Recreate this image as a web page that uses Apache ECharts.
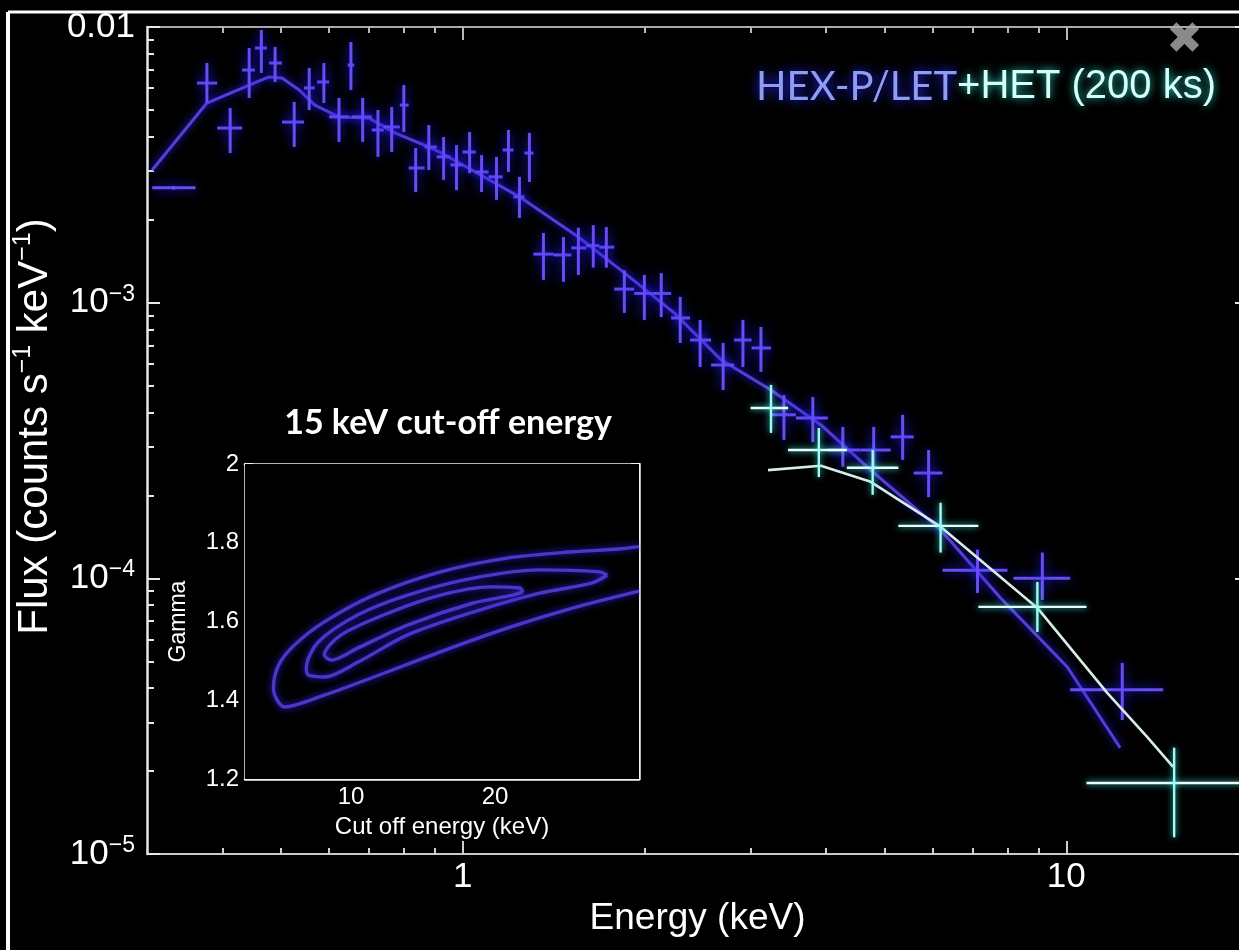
<!DOCTYPE html>
<html>
<head>
<meta charset="utf-8">
<title>HEX-P spectrum</title>
<script src="https://cdn.jsdelivr.net/npm/echarts@6/dist/echarts.min.js"></script>
<style>
  html, body { margin: 0; padding: 0; background: #000; }
  #chart { width: 1239px; height: 950px; }
</style>
</head>
<body>
<div id="chart"></div>
<script>
// ---- LET spectrum: [energy, energyLow, energyHigh, flux, fluxLow, fluxHigh] ----
const letSpectrum = [
  [0.332, 0.306, 0.361, 2.61e-3, 2.57e-3, 2.65e-3],
  [0.377, 0.363, 0.392, 6.26e-3, 5.30e-3, 7.40e-3],
  [0.412, 0.392, 0.431, 4.30e-3, 3.49e-3, 5.08e-3],
  [0.443, 0.431, 0.453, 6.98e-3, 5.53e-3, 8.39e-3],
  [0.464, 0.453, 0.474, 8.39e-3, 6.81e-3, 9.75e-3],
  [0.489, 0.478, 0.502, 7.40e-3, 6.32e-3, 8.46e-3],
  [0.526, 0.502, 0.546, 4.52e-3, 3.67e-3, 5.35e-3],
  [0.557, 0.546, 0.569, 6.01e-3, 5.00e-3, 7.10e-3],
  [0.589, 0.574, 0.601, 6.32e-3, 5.30e-3, 7.40e-3],
  [0.624, 0.601, 0.648, 4.72e-3, 3.83e-3, 5.53e-3],
  [0.653, 0.645, 0.661, 7.28e-3, 5.91e-3, 8.82e-3],
  [0.683, 0.656, 0.707, 4.72e-3, 3.83e-3, 5.53e-3],
  [0.724, 0.707, 0.740, 4.23e-3, 3.38e-3, 5.00e-3],
  [0.763, 0.740, 0.787, 4.34e-3, 3.52e-3, 5.13e-3],
  [0.799, 0.787, 0.814, 5.21e-3, 4.16e-3, 6.16e-3],
  [0.836, 0.814, 0.865, 3.08e-3, 2.52e-3, 3.64e-3],
  [0.879, 0.865, 0.906, 3.67e-3, 3.03e-3, 4.41e-3],
  [0.930, 0.906, 0.955, 3.38e-3, 2.79e-3, 3.99e-3],
  [0.977, 0.955, 1.000, 3.16e-3, 2.56e-3, 3.73e-3],
  [1.027, 1.000, 1.051, 3.52e-3, 2.95e-3, 4.16e-3],
  [1.075, 1.051, 1.104, 2.98e-3, 2.52e-3, 3.43e-3],
  [1.138, 1.104, 1.165, 2.86e-3, 2.36e-3, 3.38e-3],
  [1.191, 1.165, 1.214, 3.58e-3, 2.98e-3, 4.23e-3],
  [1.242, 1.214, 1.266, 2.42e-3, 2.03e-3, 2.86e-3],
  [1.290, 1.266, 1.310, 3.49e-3, 2.74e-3, 4.13e-3],
  [1.361, 1.310, 1.414, 1.50e-3, 1.21e-3, 1.79e-3],
  [1.469, 1.414, 1.514, 1.49e-3, 1.19e-3, 1.73e-3],
  [1.555, 1.514, 1.603, 1.58e-3, 1.26e-3, 1.87e-3],
  [1.646, 1.603, 1.684, 1.61e-3, 1.34e-3, 1.91e-3],
  [1.730, 1.684, 1.783, 1.59e-3, 1.34e-3, 1.88e-3],
  [1.853, 1.783, 1.924, 1.12e-3, 9.18e-4, 1.31e-3],
  [2.000, 1.924, 2.069, 1.08e-3, 8.66e-4, 1.26e-3],
  [2.133, 2.069, 2.215, 1.08e-3, 8.87e-4, 1.28e-3],
  [2.293, 2.215, 2.381, 8.80e-4, 7.14e-4, 1.05e-3],
  [2.474, 2.381, 2.580, 7.32e-4, 5.84e-4, 8.66e-4],
  [2.701, 2.580, 2.816, 5.94e-4, 4.82e-4, 7.14e-4],
  [2.913, 2.816, 3.010, 7.32e-4, 5.84e-4, 8.66e-4],
  [3.120, 3.010, 3.242, 6.85e-4, 5.61e-4, 8.16e-4],
  [3.406, 3.242, 3.565, 3.92e-4, 3.18e-4, 4.62e-4],
  [3.803, 3.565, 4.027, 3.82e-4, 3.12e-4, 4.55e-4],
  [4.264, 4.027, 4.565, 2.92e-4, 2.54e-4, 3.54e-4],
  [4.797, 4.565, 5.118, 2.92e-4, 2.47e-4, 3.54e-4],
  [5.357, 5.118, 5.587, 3.26e-4, 2.69e-4, 3.92e-4],
  [5.915, 5.587, 6.237, 2.41e-4, 1.97e-4, 2.92e-4],
  [7.128, 6.237, 7.989, 1.07e-4, 8.85e-5, 1.27e-4],
  [9.127, 8.174, 10.15, 1.00e-4, 8.35e-5, 1.24e-4],
  [12.38, 10.15, 14.47, 3.94e-5, 3.06e-5, 4.93e-5]
];

// ---- HET spectrum: same column layout ----
const hetSpectrum = [
  [3.242, 3.00, 3.46, 4.15e-4, 3.37e-4, 5.03e-4],
  [3.891, 3.46, 4.33, 2.92e-4, 2.33e-4, 3.51e-4],
  [4.778, 4.33, 5.27, 2.52e-4, 2.01e-4, 2.92e-4],
  [6.191, 5.27, 7.15, 1.55e-4, 1.24e-4, 1.88e-4],
  [8.955, 7.15, 10.8, 7.88e-5, 6.39e-5, 9.70e-5],
  [15.09, 10.8, 21.0, 1.81e-5, 1.15e-5, 2.43e-5]
];

// ---- folded model curves ----
const letModelEnergy = [0.306, 0.377, 0.443, 0.478, 0.502, 0.536, 0.569, 0.624, 0.699, 0.772, 0.879, 0.923,
                        1.242, 1.555, 1.831, 2.241, 2.680, 3.242, 3.922, 4.743, 6.191, 7.782, 10.04, 12.28];
const letModelFlux   = [3.03e-3, 5.30e-3, 6.16e-3, 6.59e-3, 6.53e-3, 5.91e-3, 5.21e-3, 4.72e-3, 4.68e-3, 4.13e-3, 3.67e-3, 3.49e-3,
                        2.42e-3, 1.73e-3, 1.31e-3, 9.18e-4, 6.20e-4, 4.82e-4, 3.60e-4, 2.47e-4, 1.50e-4, 8.49e-5, 4.77e-5, 2.43e-5];
const hetModelEnergy = [3.205, 3.922, 4.743, 6.191, 8.955, 11.69, 13.61, 15.03];
const hetModelFlux   = [2.47e-4, 2.56e-4, 2.24e-4, 1.54e-4, 7.81e-5, 3.84e-5, 2.66e-5, 2.07e-5];

// ---- confidence contours: [cut-off energy (keV), Gamma] ----
const contourOuter = [[40, 1.790], [36.35, 1.784], [29.04, 1.777], [21.18, 1.761], [15.38, 1.726], [11.16, 1.667],
                      [8.79, 1.599], [7.61, 1.540], [7.06, 1.490], [6.88, 1.430], [7.26, 1.383], [8.79, 1.413],
                      [11.16, 1.459], [15.38, 1.523], [21.18, 1.583], [29.04, 1.634], [40, 1.677]];
const contourMiddle = [[34.32, 1.718], [33.04, 1.726], [24.80, 1.731], [18.00, 1.710], [13.13, 1.667], [10.34, 1.617],
                       [8.54, 1.548], [8.06, 1.482], [8.14, 1.464], [8.79, 1.459], [10.34, 1.497], [13.13, 1.566],
                       [18.00, 1.624], [24.80, 1.672], [31.95, 1.698], [34.32, 1.718]];
const contourInner = [[22.87, 1.675], [22.54, 1.685], [19.53, 1.688], [15.38, 1.667], [12.11, 1.624], [9.53, 1.566],
                      [8.79, 1.515], [9.09, 1.502], [10.34, 1.533], [13.13, 1.591], [18.00, 1.647], [21.80, 1.667],
                      [22.87, 1.675]];

// ---- axis ranges and ticks ----
const energyRange = [0.3, 20];
const fluxRange = [1e-5, 1e-2];
const energyMajorTicks = [1, 10];
const energyMinorTicks = [0.4, 0.5, 0.6, 0.7, 0.8, 0.9, 2, 3, 4, 5, 6, 7, 8, 9];
const fluxMajorTicks = [1e-5, 1e-4, 1e-3, 1e-2];
const fluxMinorTicks = [2e-5, 3e-5, 4e-5, 5e-5, 6e-5, 7e-5, 8e-5, 9e-5,
                        2e-4, 3e-4, 4e-4, 5e-4, 6e-4, 7e-4, 8e-4, 9e-4,
                        2e-3, 3e-3, 4e-3, 5e-3, 6e-3, 7e-3, 8e-3, 9e-3];
const cutoffRange = [6, 40];
const cutoffMajorTicks = [10, 20];
const cutoffMinorTicks = [7, 8, 9, 30];
const gammaRange = [1.2, 2.0];

const lg = Math.log10;
const FONT = "'Liberation Sans', Arial, Helvetica, sans-serif";

// tick-only companion axis laid over a log data axis (values in log10 space)
function tickAxis(grid, position, range, ticks, len, color, extra) {
  const axis = Object.assign({
    type: 'value', gridIndex: grid, position: position,
    min: lg(range[0]), max: lg(range[1]),
    splitLine: { show: false },
    axisTick: { show: true, inside: true, length: len, customValues: ticks.map(lg),
                lineStyle: { color: color, width: 2 } },
    axisLabel: { show: false }
  }, extra || {});
  axis.axisLine = Object.assign({ show: false }, axis.axisLine || {}, { onZero: false });
  return axis;
}
function hiddenLogAxis(grid, range) {
  return {
    type: 'log', gridIndex: grid, min: range[0], max: range[1],
    axisLine: { show: false, onZero: false }, axisTick: { show: false },
    axisLabel: { show: false }, splitLine: { show: false }
  };
}

function fluxLabel(v) {
  const p = Math.round(v);
  if (p === -2) return '{b|0.01}';
  return '{b|10}{s|\u2212' + (-p) + '}';
}

// draws a cross (x bin width and y error) for each spectral bin
function crossItem(hStyle, vStyle) {
  return function (params, api) {
    const e = api.value(0), e0 = api.value(1), e1 = api.value(2);
    const f = api.value(3), f0 = api.value(4), f1 = api.value(5);
    const a = api.coord([e0, f]), b = api.coord([e1, f]);
    const c = api.coord([e, f0]), d = api.coord([e, f1]);
    return {
      type: 'group',
      children: [
        { type: 'line', shape: { x1: a[0], y1: a[1], x2: b[0], y2: b[1] }, style: hStyle },
        { type: 'line', shape: { x1: c[0], y1: c[1], x2: d[0], y2: d[1] }, style: vStyle }
      ]
    };
  };
}

const letBarStyle = { stroke: '#6a4cf4', lineWidth: 3, shadowBlur: 12, shadowColor: '#2222ff' };
const hetHStyle = { stroke: '#e6fffb', lineWidth: 2.4, shadowBlur: 6, shadowColor: '#40f0e0' };
const hetVStyle = { stroke: '#9ffcf0', lineWidth: 2.4, shadowBlur: 6, shadowColor: '#40f0e0' };

const zip = (xs, ys) => xs.map((x, i) => [x, ys[i]]);

const contourLine = {
  color: '#4b36c8', width: 3.4, shadowBlur: 7, shadowColor: '#2a22e0'
};

const option = {
  backgroundColor: '#000',
  animation: false,
  title: [
    {
      text: '{a|HEX-P/LET}{b|+HET (200 ks)}',
      left: 756, top: 67, textAlign: 'left', padding: 0,
      textStyle: {
        rich: {
          a: { fontFamily: 'Lato, sans-serif', fontWeight: 'normal', fontSize: 40, color: '#8e9cf4',
               textShadowColor: '#2a2aff', textShadowBlur: 12 },
          b: { fontFamily: FONT, fontWeight: 'normal', fontSize: 40, color: '#d4fff8',
               textShadowColor: '#30d8c8', textShadowBlur: 8 }
        }
      }
    },
    {
      text: '15 keV cut-off energy',
      left: 448, top: 406, textAlign: 'center', padding: 0,
      textStyle: { fontFamily: 'Lato, sans-serif', fontWeight: 'bold', fontSize: 34, color: '#ffffff' }
    }
  ],
  graphic: [
    { type: 'line', shape: { x1: 8, y1: 12, x2: 1239, y2: 12 }, style: { stroke: '#ffffff', lineWidth: 3 } },
    { type: 'line', shape: { x1: 8, y1: 12, x2: 8, y2: 950 }, style: { stroke: '#ffffff', lineWidth: 4 } },
    { type: 'text', left: 1166, top: 20,
      style: { text: '\u2716', fontSize: 44, fontFamily: 'DejaVu Sans', fill: '#8a8a8a' } }
  ],
  grid: [
    { left: 147, top: 27, width: 1101, height: 827, show: false, outerBoundsMode: 'none' },
    { left: 245, top: 464, width: 394, height: 315, show: true, backgroundColor: '#000', borderWidth: 0, z: 5,
      outerBoundsMode: 'none' }
  ],
  xAxis: [
    hiddenLogAxis(0, energyRange),
    tickAxis(0, 'bottom', energyRange, energyMajorTicks, 13, '#cfcfcf', {
      axisLine: { show: true, lineStyle: { color: '#c8c8c8', width: 2 } },
      axisLabel: { show: true, customValues: energyMajorTicks.map(lg), margin: 6,
                   formatter: v => String(Math.round(Math.pow(10, v))),
                   color: '#ffffff', fontSize: 35, fontFamily: FONT },
      name: 'Energy (keV)', nameLocation: 'middle', nameGap: 44,
      nameTextStyle: { color: '#ffffff', fontSize: 37, fontFamily: FONT }
    }),
    tickAxis(0, 'bottom', energyRange, energyMinorTicks, 6, '#cfcfcf'),
    tickAxis(0, 'top', energyRange, energyMajorTicks, 13, '#b8b8b8', {
      axisLine: { show: true, lineStyle: { color: '#aaaaaa', width: 2 } }
    }),
    tickAxis(0, 'top', energyRange, energyMinorTicks, 6, '#b8b8b8'),
    hiddenLogAxis(1, cutoffRange),
    tickAxis(1, 'bottom', cutoffRange, cutoffMajorTicks, 9, '#f2f2f2', {
      axisLine: { show: true, lineStyle: { color: '#f2f2f2', width: 2.5 } },
      axisLabel: { show: true, customValues: cutoffMajorTicks.map(lg), margin: 6,
                   formatter: v => String(Math.round(Math.pow(10, v))),
                   color: '#ffffff', fontSize: 24, fontFamily: FONT },
      name: 'Cut off energy (keV)', nameLocation: 'middle', nameGap: 36,
      nameTextStyle: { color: '#ffffff', fontSize: 24, fontFamily: FONT }
    }),
    tickAxis(1, 'bottom', cutoffRange, cutoffMinorTicks, 6, '#f2f2f2'),
    tickAxis(1, 'top', cutoffRange, cutoffMajorTicks, 9, '#f2f2f2', {
      axisLine: { show: true, lineStyle: { color: '#f2f2f2', width: 2.5 } }
    }),
    tickAxis(1, 'top', cutoffRange, cutoffMinorTicks, 6, '#f2f2f2')
  ],
  yAxis: [
    hiddenLogAxis(0, fluxRange),
    tickAxis(0, 'left', fluxRange, fluxMajorTicks, 13, '#e8e8e8', {
      axisLine: { show: true, lineStyle: { color: '#e8e8e8', width: 2.5 } },
      axisLabel: {
        show: true, customValues: fluxMajorTicks.map(lg), margin: 12, formatter: fluxLabel,
        rich: {
          b: { fontSize: 35, fontFamily: FONT, color: '#ffffff', lineHeight: 40 },
          s: { fontSize: 23, fontFamily: FONT, color: '#ffffff', verticalAlign: 'top', lineHeight: 23 }
        }
      },
      name: '{t|Flux (counts s}{s|\u22121}{t| keV}{s|\u22121}{t|)}',
      nameLocation: 'middle', nameRotate: 90, nameGap: 78,
      nameTextStyle: {
        padding: [0, 0, 0, 28],
        rich: {
          t: { fontSize: 42, fontFamily: FONT, color: '#ffffff', lineHeight: 48 },
          s: { fontSize: 25, fontFamily: FONT, color: '#ffffff', verticalAlign: 'top', lineHeight: 25 }
        }
      }
    }),
    tickAxis(0, 'left', fluxRange, fluxMinorTicks, 7, '#e8e8e8'),
    tickAxis(0, 'right', fluxRange, fluxMajorTicks, 13, '#e8e8e8', {
      axisLine: { show: true, lineStyle: { color: '#e8e8e8', width: 2.5 } }
    }),
    tickAxis(0, 'right', fluxRange, fluxMinorTicks, 7, '#e8e8e8'),
    {
      type: 'value', gridIndex: 1, position: 'left', min: gammaRange[0], max: gammaRange[1], interval: 0.2,
      axisLine: { show: true, onZero: false, lineStyle: { color: '#f2f2f2', width: 2.5 } },
      axisTick: { show: true, inside: true, length: 8, lineStyle: { color: '#f2f2f2', width: 2 } },
      minorTick: { show: true, splitNumber: 4, length: 5, lineStyle: { color: '#f2f2f2', width: 2 } },
      splitLine: { show: false },
      axisLabel: { color: '#ffffff', fontSize: 24, fontFamily: FONT, margin: 6 },
      name: 'Gamma', nameLocation: 'middle', nameRotate: 90, nameGap: 55,
      nameTextStyle: { color: '#ffffff', fontSize: 23, fontFamily: FONT }
    },
    {
      type: 'value', gridIndex: 1, position: 'right', min: gammaRange[0], max: gammaRange[1], interval: 0.2,
      axisLine: { show: true, onZero: false, lineStyle: { color: '#f2f2f2', width: 2.5 } },
      axisTick: { show: true, inside: true, length: 8, lineStyle: { color: '#f2f2f2', width: 2 } },
      minorTick: { show: true, splitNumber: 4, length: 5, lineStyle: { color: '#f2f2f2', width: 2 } },
      splitLine: { show: false },
      axisLabel: { show: false }
    }
  ],
  series: [
    {
      name: 'LET model', type: 'line', xAxisIndex: 0, yAxisIndex: 0,
      data: zip(letModelEnergy, letModelFlux), symbol: 'none', clip: true, z: 3,
      lineStyle: { color: '#5a3cd8', width: 3, shadowBlur: 8, shadowColor: '#2626ff' }
    },
    {
      name: 'HEX-P/LET', type: 'custom', xAxisIndex: 0, yAxisIndex: 0, clip: true, z: 4,
      data: letSpectrum, encode: { x: [0, 1, 2], y: [3, 4, 5] },
      renderItem: crossItem(letBarStyle, letBarStyle)
    },
    {
      name: 'HET model', type: 'line', xAxisIndex: 0, yAxisIndex: 0,
      data: zip(hetModelEnergy, hetModelFlux), symbol: 'none', clip: true, z: 5,
      lineStyle: { color: '#d6eee6', width: 2.6 }
    },
    {
      name: 'HET', type: 'custom', xAxisIndex: 0, yAxisIndex: 0, clip: true, z: 6,
      data: hetSpectrum, encode: { x: [0, 1, 2], y: [3, 4, 5] },
      renderItem: crossItem(hetHStyle, hetVStyle)
    },
    {
      name: '99%', type: 'line', xAxisIndex: 5, yAxisIndex: 5, data: contourOuter,
      symbol: 'none', smooth: 0.3, clip: true, z: 8, lineStyle: contourLine
    },
    {
      name: '90%', type: 'line', xAxisIndex: 5, yAxisIndex: 5, data: contourMiddle,
      symbol: 'none', smooth: 0.3, clip: true, z: 8, lineStyle: contourLine
    },
    {
      name: '68%', type: 'line', xAxisIndex: 5, yAxisIndex: 5, data: contourInner,
      symbol: 'none', smooth: 0.3, clip: true, z: 8, lineStyle: contourLine
    }
  ]
};

const chart = echarts.init(document.getElementById('chart'), null, { renderer: 'canvas' });
chart.setOption(option);
</script>
</body>
</html>
